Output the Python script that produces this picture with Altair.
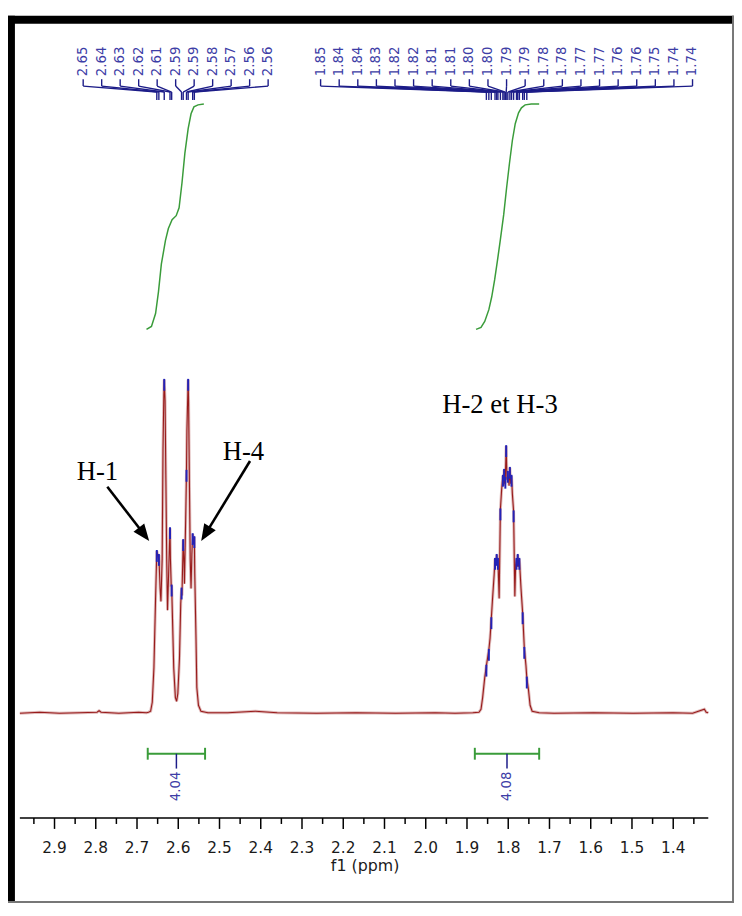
import math
import altair as alt
import pandas as pd

# ---------------- data ----------------
# 1H NMR trace (ppm, intensity in arbitrary units)
spec_ppm = [
    2.984, 2.936, 2.888, 2.840, 2.797, 2.792, 2.787, 2.744, 2.696, 2.677,
    2.672, 2.667, 2.663, 2.659, 2.655, 2.652, 2.649, 2.647, 2.644, 2.642,
    2.639, 2.637, 2.635, 2.634, 2.632, 2.630, 2.628, 2.626, 2.623, 2.620,
    2.619, 2.617, 2.616, 2.614, 2.611, 2.607, 2.604, 2.601, 2.597, 2.594,
    2.592, 2.591, 2.588, 2.586, 2.585, 2.582, 2.580, 2.579, 2.577, 2.576,
    2.575, 2.573, 2.571, 2.569, 2.567, 2.565, 2.563, 2.561, 2.560, 2.557,
    2.555, 2.551, 2.545, 2.528,
    2.480, 2.413, 2.360, 2.265, 2.169, 2.073, 1.977, 1.929, 1.886,
    1.871, 1.866, 1.862, 1.857, 1.853, 1.850, 1.847, 1.844, 1.841, 1.838,
    1.834, 1.832, 1.830, 1.828, 1.826, 1.825, 1.822, 1.819, 1.816, 1.813,
    1.811, 1.810, 1.808, 1.807, 1.805, 1.803, 1.801, 1.798, 1.796, 1.794,
    1.792, 1.790, 1.787, 1.784, 1.782, 1.780, 1.778, 1.777, 1.775, 1.773,
    1.769, 1.765, 1.761, 1.757, 1.755, 1.751, 1.747, 1.742, 1.725,
    1.689, 1.593, 1.497, 1.401, 1.353, 1.3245, 1.320, 1.315,
]
spec_int = [
    0, 1, 0, 0.5, 1, 2.5, 1, 0, 1, 0.5,
    1, 2, 11, 46, 116, 164, 158, 160, 126, 113,
    156, 266, 321, 337, 316, 236, 156, 104, 146, 187,
    156, 128, 129, 96, 46, 16, 12, 20, 56, 111,
    126, 119, 175, 151, 131, 196, 245, 286, 321, 337,
    316, 236, 156, 126, 161, 181, 171, 178, 141, 76,
    26, 8, 2, 0.5,
    0.5, 2, 0.5, 0, 0.5, 0, 0.5, 0, 0.5,
    1, 4, 16, 36, 48, 56, 64, 76, 96, 116,
    141, 156, 150, 160, 150, 156, 116, 206, 226, 240,
    230, 246, 232, 238, 270, 236, 244, 230, 248, 232,
    240, 222, 204, 118, 150, 156, 148, 160, 148, 156,
    126, 101, 66, 48, 36, 24, 8, 2, 0.5,
    0, 0.5, 0, 0.5, 0, 4, 1, 0.5,
]

# peak picking
pick_ppm = [2.652, 2.647, 2.634, 2.620, 2.616, 2.592, 2.588, 2.580, 2.576, 2.565, 2.561,
            1.853, 1.847, 1.841, 1.832, 1.828, 1.825, 1.819, 1.813, 1.810, 1.807,
            1.805, 1.801, 1.796, 1.792, 1.787, 1.780, 1.777, 1.773, 1.765, 1.761, 1.755]
pick_int = [164, 160, 337, 187, 129, 126, 175, 245, 337, 181, 178,
            48, 64, 96, 156, 160, 156, 206, 240, 246, 238,
            270, 244, 248, 240, 204, 156, 160, 156, 101, 66, 36]
pick_label = ["2.65", "2.64", "2.63", "2.62", "2.61", "2.59", "2.59", "2.58", "2.57", "2.56", "2.56",
              "1.85", "1.84", "1.84", "1.83", "1.82", "1.82", "1.81", "1.81", "1.80", "1.80",
              "1.79", "1.79", "1.78", "1.78", "1.77", "1.77", "1.76", "1.76", "1.75", "1.74", "1.74"]
pick_group = [1] * 11 + [2] * 21

# integral curves
integral1_ppm = [2.677, 2.665, 2.655, 2.648, 2.641, 2.631, 2.624, 2.615, 2.605, 2.598,
                 2.591, 2.584, 2.576, 2.569, 2.562, 2.552, 2.538]
integral1_val = [388, 391, 404, 426, 454, 478, 490, 499, 503, 511,
                 536, 566, 591, 606, 613, 615, 616]
integral2_ppm = [1.878, 1.866, 1.857, 1.847, 1.840, 1.833, 1.826, 1.819, 1.811, 1.804,
                 1.797, 1.790, 1.783, 1.775, 1.768, 1.759, 1.744, 1.725]
integral2_val = [388, 390, 396, 408, 421, 438, 458, 479, 504, 531,
                 556, 579, 596, 607, 612, 615, 616, 616]

# integration regions
integ_from = [2.674, 1.881]
integ_to = [2.535, 1.725]
integ_value = ["4.04", "4.08"]

# axis ticks
x_ticks = [2.9, 2.8, 2.7, 2.6, 2.5, 2.4, 2.3, 2.2, 2.1, 2.0, 1.9, 1.8, 1.7, 1.6, 1.5, 1.4]
x_minor = [2.95, 2.85, 2.75, 2.65, 2.55, 2.45, 2.35, 2.25, 2.15, 2.05, 1.95, 1.85, 1.75,
           1.65, 1.55, 1.45, 1.35]
x_title = "f1 (ppm)"

# annotations
annot_text = ["H-1", "H-4", "H-2 et H-3"]
annot_ppm = [2.796, 2.442, 1.820]
annot_int = [236, 256, 303]
arrow_from_ppm = [2.772, 2.426]
arrow_from_int = [229, 255]
arrow_to_ppm = [2.6705, 2.5444]
arrow_to_int = [174, 174]

# ---------------- layout / style ----------------
W, H = 696, 802
X_DOMAIN = [1.315, 2.984]
Y_DOMAIN = [-106, 696]
PX_PER_PPM = W / (X_DOMAIN[1] - X_DOMAIN[0])
PX_PER_INT = H / (Y_DOMAIN[1] - Y_DOMAIN[0])

xs = alt.Scale(domain=X_DOMAIN, reverse=True, nice=False, zero=False)
ys = alt.Scale(domain=Y_DOMAIN, nice=False, zero=False)

SANS = "DejaVu Sans, sans-serif"
SERIF = "Liberation Serif, Times New Roman, serif"
RED = "#981b1b"
HALO = "#d9aeae"
NAVY = "#1c1c88"
BLUE = "#2323b8"
LABEL_BLUE = "#3d3da6"
GREEN = "#3a9c3a"
AXIS_TXT = "#1a1a1a"


def X(field):
    return alt.X(field, type="quantitative", scale=xs, axis=None)


def Y(field):
    return alt.Y(field, type="quantitative", scale=ys, axis=None)


spec = pd.DataFrame({"ppm": spec_ppm, "inten": spec_int, "idx": range(len(spec_ppm))})

halo = alt.Chart(spec).mark_line(color=HALO, strokeWidth=3, opacity=0.85).encode(
    x=X("ppm"), y=Y("inten"), order="idx:Q")
trace = alt.Chart(spec).mark_line(color=RED, strokeWidth=1.1).encode(
    x=X("ppm"), y=Y("inten"), order="idx:Q")

# ---- x axis (drawn through the x scale) ----
one = pd.DataFrame({"k": [0]})
ax_domain = alt.Chart(one).mark_rule(color="black", strokeWidth=1.6).encode(
    x=alt.value(0), x2=alt.value(W), y=alt.value(H))
major_df = pd.DataFrame({"v": x_ticks})
ax_major = alt.Chart(major_df).mark_rule(color="black", strokeWidth=1.5).encode(
    x=X("v"), y=alt.value(H), y2=alt.value(H + 11))
ax_minor = alt.Chart(pd.DataFrame({"v": x_minor})).mark_rule(color="black", strokeWidth=1.5).encode(
    x=X("v"), y=alt.value(H), y2=alt.value(H + 6))
ax_labels = alt.Chart(major_df).mark_text(font=SANS, fontSize=15.5, color=AXIS_TXT,
                                          baseline="middle", align="center").encode(
    x=X("v"), y=alt.value(H + 30), text=alt.Text("v:Q", format=".1f"))
ax_title = alt.Chart(pd.DataFrame({"t": [x_title]})).mark_text(
    font=SANS, fontSize=16, color=AXIS_TXT, baseline="middle", align="center").encode(
    x=alt.value(W / 2 + 1), y=alt.value(H + 49), text="t:N")

integ = pd.DataFrame({
    "ppm": integral1_ppm + integral2_ppm,
    "v": integral1_val + integral2_val,
    "grp": [1] * len(integral1_ppm) + [2] * len(integral2_ppm),
})
integ["idx"] = range(len(integ))
integ_line = alt.Chart(integ).mark_line(color=GREEN, strokeWidth=1.5).encode(
    x=X("ppm"), y=Y("v"), detail="grp:N", order="idx:Q")

# peak labels
peaks = pd.DataFrame({"ppm": pick_ppm, "inten": pick_int, "label": pick_label, "group": pick_group})
lx = []
c1 = c2 = 0
for g in pick_group:
    if g == 1:
        lx.append(2.8305 - c1 * 0.04484)
        c1 += 1
    else:
        lx.append(2.2549 - c2 * 0.045085)
        c2 += 1
peaks["lx"] = lx
peaks["t_top"] = 641
peaks["t_bot"] = 634
peaks["d_end"] = 628
peaks["p_bot"] = 620
peaks["lab_y"] = 644
peaks["tick_top"] = peaks["inten"] + 1
peaks["tick_bot"] = peaks["inten"] - 11

pbase = alt.Chart(peaks)
conn1 = pbase.mark_rule(color=NAVY, strokeWidth=1.4).encode(x=X("lx"), y=Y("t_top"), y2="t_bot")
conn2 = pbase.mark_rule(color=NAVY, strokeWidth=1.4).encode(x=X("lx"), x2="ppm", y=Y("t_bot"), y2="d_end")
conn3 = pbase.mark_rule(color=NAVY, strokeWidth=1.4).encode(x=X("ppm"), y=Y("d_end"), y2="p_bot")
plabels = pbase.mark_text(angle=270, align="left", baseline="middle", font=SANS,
                          fontSize=13.5, color=LABEL_BLUE).encode(
    x=X("lx"), y=Y("lab_y"), text="label:N")
pticks = pbase.mark_rule(color=BLUE, strokeWidth=2).encode(x=X("ppm"), y=Y("tick_top"), y2="tick_bot")

# integration brackets
ib = pd.DataFrame({"a": integ_from, "b": integ_to, "val": integ_value})
ib["c"] = (ib["a"] + ib["b"]) / 2
ib["y"] = -41
ib["cap_t"] = -35
ib["cap_b"] = -47
ib["stem_b"] = -56
ib["lab_y"] = -59
ibase = alt.Chart(ib)
ib_h = ibase.mark_rule(color=GREEN, strokeWidth=2).encode(x=X("a"), x2="b", y=Y("y"))
ib_l = ibase.mark_rule(color=GREEN, strokeWidth=2).encode(x=X("a"), y=Y("cap_t"), y2="cap_b")
ib_r = ibase.mark_rule(color=GREEN, strokeWidth=2).encode(x=X("b"), y=Y("cap_t"), y2="cap_b")
ib_s = ibase.mark_rule(color=NAVY, strokeWidth=1.5).encode(x=X("c"), y=Y("y"), y2="stem_b")
ib_t = ibase.mark_text(angle=270, align="right", baseline="middle", font=SANS,
                       fontSize=13.5, color=LABEL_BLUE).encode(x=X("c"), y=Y("lab_y"), text="val:N")

# annotations
ann = pd.DataFrame({"t": annot_text, "ppm": annot_ppm, "v": annot_int})
ann_t = alt.Chart(ann).mark_text(font=SERIF, fontSize=27, align="center", baseline="alphabetic",
                                 color="black").encode(x=X("ppm"), y=Y("v"), text="t:N")

arr = pd.DataFrame({"x0": arrow_from_ppm, "y0": arrow_from_int, "x1": arrow_to_ppm, "y1": arrow_to_int})
HEAD = 15.0
angles, ex, ey = [], [], []
for x0, y0, x1, y1 in zip(arrow_from_ppm, arrow_from_int, arrow_to_ppm, arrow_to_int):
    dx = (x0 - x1) * PX_PER_PPM
    dy = (y0 - y1) * PX_PER_INT
    angles.append(math.degrees(math.atan2(dx, -dy)) % 360)
    L = math.hypot(dx, dy)
    ex.append(x1 + (x0 - x1) * HEAD / L)
    ey.append(y1 + (y0 - y1) * HEAD / L)
arr["ang"] = angles
arr["ex"] = ex
arr["ey"] = ey
arr_line = alt.Chart(arr).mark_rule(color="black", strokeWidth=2.6).encode(
    x=X("x0"), x2="ex", y=Y("y0"), y2="ey")
arr_head = alt.Chart(arr).mark_point(shape="M0,0L0.72,1.8L-0.72,1.8Z", filled=True, size=360,
                                     color="black", opacity=1, strokeWidth=0).encode(
    x=X("x1"), y=Y("y1"), angle=alt.Angle("ang:Q", scale=None))

# frame around the figure
fbase = alt.Chart(one)
f_left = fbase.mark_rect(color="black").encode(x=alt.value(-12), x2=alt.value(-5),
                                               y=alt.value(-9), y2=alt.value(H + 86))
f_top = fbase.mark_rect(color="black").encode(x=alt.value(-12), x2=alt.value(W + 26),
                                              y=alt.value(-9), y2=alt.value(-1))
f_right = fbase.mark_rect(color="#777777").encode(x=alt.value(W + 24), x2=alt.value(W + 26),
                                                  y=alt.value(-9), y2=alt.value(H + 86))
f_bot = fbase.mark_rect(color="#777777").encode(x=alt.value(-12), x2=alt.value(W + 26),
                                                y=alt.value(H + 84), y2=alt.value(H + 86))

chart = alt.layer(
    halo, trace, ax_domain, ax_major, ax_minor, ax_labels, ax_title,
    integ_line, conn1, conn2, conn3, plabels, pticks,
    ib_h, ib_l, ib_r, ib_s, ib_t, ann_t, arr_line, arr_head,
    f_left, f_top, f_right, f_bot,
).properties(
    width=W, height=H,
    autosize=alt.AutoSizeParams(type="none"),
    padding={"left": 12, "top": 12, "right": 26, "bottom": 86},
    background="white",
).configure_view(strokeWidth=0)

chart.save("out.html", embed_options={"renderer": "svg", "actions": False})
